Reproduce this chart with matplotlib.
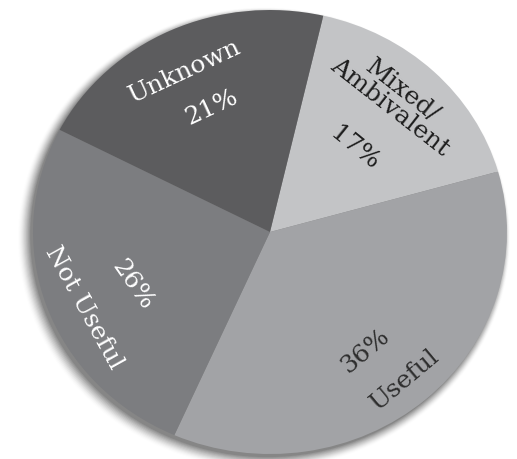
import matplotlib
matplotlib.use("Agg")
import matplotlib.pyplot as plt
import numpy as np
from matplotlib.patches import Ellipse

# Data
categories = ["Mixed/\nAmbivalent", "Useful", "Not Useful", "Unknown"]
values = [17, 36, 26, 21]
pct_labels = ["17%", "36%", "26%", "21%"]

colors = ["#c3c4c6", "#a2a3a6", "#7c7d80", "#5c5c5e"]
text_colors = ["#1e1e1e", "#2e2e2e", "#ffffff", "#ffffff"]
name_r = [0.80, 0.875, 0.855, 0.805]
pct_r = [0.52, 0.67, 0.625, 0.615]
name_dang = [2.0, -0.5, 4.0, 1.5]
pct_dang = [0.0, -4.0, 3.0, -1.0]
rotations = [-38, 40, -61, 25]
pct_rot = [-39, 40, -55, 25]

fig = plt.figure(figsize=(5.17, 4.59), dpi=100)
W, H = 517, 459
cx, cy, rx, ry = 270, 232, 237, 222
ax = fig.add_axes([(cx - rx) / W, (H - cy - ry) / H, 2 * rx / W, 2 * ry / H])
ax.set_xlim(-1, 1)
ax.set_ylim(-1, 1)
ax.axis("off")

# soft shadow (lower-left)
n = 12
for i in range(n):
    a = 0.09 * (1 - i / n)
    s = 1.0 + 0.0035 * i
    ax.add_patch(Ellipse((-0.012 - 0.0012 * i, -0.014 - 0.0012 * i), 2 * s, 2 * s,
                         facecolor="black", alpha=a, lw=0, zorder=0, clip_on=False))

wedges, _ = ax.pie(values, colors=colors, startangle=77, counterclock=False,
                   radius=1.0, wedgeprops=dict(linewidth=0), frame=False)
ax.set_aspect("auto")
ax.set_xlim(-1, 1)
ax.set_ylim(-1, 1)
for w in wedges:
    w.set_zorder(2)

fs = 18
for i, w in enumerate(wedges):
    mid = (w.theta1 + w.theta2) / 2
    a1 = np.deg2rad(mid + name_dang[i])
    a2 = np.deg2rad(mid + pct_dang[i])
    ax.text(name_r[i] * np.cos(a1), name_r[i] * np.sin(a1), categories[i],
            rotation=rotations[i], rotation_mode="anchor", ha="center", va="center",
            color=text_colors[i], fontsize=fs, family="DejaVu Serif",
            linespacing=0.85, zorder=5)
    ax.text(pct_r[i] * np.cos(a2), pct_r[i] * np.sin(a2), pct_labels[i],
            rotation=pct_rot[i], rotation_mode="anchor", ha="center", va="center",
            color=text_colors[i], fontsize=fs, family="DejaVu Serif", zorder=5)

fig.savefig("out.png", dpi=100)
